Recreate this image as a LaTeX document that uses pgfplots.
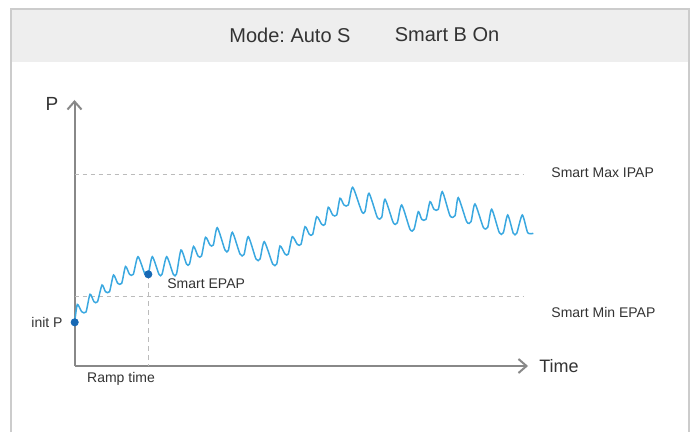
\documentclass[border=0pt]{standalone}
\usepackage{pgfplots}
\pgfplotsset{compat=1.18}
\usepackage{pgfplotstable}
\usetikzlibrary{arrows.meta}
\usepackage{fontspec}
\setmainfont{Liberation Sans}
\frenchspacing
\definecolor{wave}{HTML}{3AA8E0}
\definecolor{dotc}{HTML}{1668B4}
\definecolor{txt}{HTML}{333333}
\definecolor{axc}{HTML}{888888}
\definecolor{dashc}{HTML}{BBBBBB}
\definecolor{hdr}{HTML}{EEEEEE}
\definecolor{framec}{HTML}{CCCCCC}
\pgfplotstableread{
x y
74.7 322.3
77.3 304.5
81.7 311.7
86 312
90 294.3
94 301.7
97.5 301.7
102 285
105.5 291.7
109.5 291.7
113.5 275
117.7 283.3
121.7 283.3
125.5 266.5
129.5 274.3
133.3 274.3
138 256.7
145 274.3
148.3 274.3
152.3 256.7
159 274.3
162 274.3
166.7 256.7
173.3 274.3
176.5 274
181 250
186.5 264
189.5 264
193.5 246.5
198 256
201.5 256
205.5 237.3
210 245
213.3 245
217.3 227.7
225 250
228.3 250.5
232.3 232.3
240 254
244 254.5
248.3 236.7
256 259
260 259
264.3 241.7
272.7 264
276.7 264
280 246
285 254
288.3 254
292.3 236.7
297.3 244.3
301 244.3
305 226.7
309.3 234.3
312.7 234.3
316.7 216.7
321.7 224.3
325 224.3
328.3 207.3
332.7 215
336.7 215
340 198.3
344 205
348.3 205
352.7 187.3
361.7 211.5
365 211.5
369 193.3
377.3 217.3
381.7 217.3
385 199.3
393.3 222.7
397.3 222.7
401.7 205
410 229.3
414 229.3
418.3 211.7
421.7 219.3
426 219.3
430 201.7
434 209.3
438.3 209.3
442.3 191.7
450 215.7
455 215.7
458.3 197.7
466.7 221.7
471 221.7
475 204
483.3 227.3
487.7 227.3
491.7 209.3
499.3 232.7
503.3 232.7
507.7 215
513.3 233.3
516.7 233.3
522.3 215
527.7 232.7
533.3 233.3
}\wavedata
\begin{document}
\begin{tikzpicture}
\begin{axis}[
  x=0.5pt, y=0.5pt,
  xmin=74.5, xmax=528, ymin=66, ymax=332,
  axis lines=left,
  axis line style={draw=axc, line width=1pt, -{Straight Barb[length=4pt,width=7pt]}},
  xtick=\empty, ytick=\empty,
  clip=false,
]
% page frame
\path (axis cs:0,0) rectangle (axis cs:699,432);
\fill[hdr] (axis cs:11,370) rectangle (axis cs:689,422);
\draw[framec, line width=1pt] (axis cs:11,0) -- (axis cs:11,422.5) -- (axis cs:689,422.5) -- (axis cs:689,0);
\node[font=\fontsize{10}{12}\selectfont, text=txt] at (axis cs:290,397) {Mode: Auto S};
\node[font=\fontsize{10}{12}\selectfont, text=txt] at (axis cs:447,397) {Smart B On};
% reference lines
\addplot[color=dashc, line width=0.5pt, dash pattern=on 2pt off 2pt] coordinates {(74.5,257) (523,257)};
\addplot[color=dashc, line width=0.5pt, dash pattern=on 2pt off 2pt] coordinates {(74.5,136) (523,136)};
\addplot[color=dashc, line width=0.6pt, dash pattern=on 2.5pt off 2pt] coordinates {(148.3,158) (148.3,66)};
% wave
\addplot[color=wave, line width=0.75pt, smooth, tension=0.4] table[x=x, y expr=432-\thisrow{y}] {\wavedata};
% points
\addplot[only marks, mark=*, mark size=1.8pt, color=dotc] coordinates {(74.7,109.7) (148.3,157.7)};
% labels
\node[font=\fontsize{9.5}{11}\selectfont, text=txt] at (axis cs:52,328) {P};
\node[font=\fontsize{9}{11}\selectfont, text=txt] at (axis cs:559,66) {Time};
\node[font=\fontsize{7}{8}\selectfont, text=txt, anchor=east, inner sep=0pt] at (axis cs:63,110) {init P};
\node[font=\fontsize{7}{8}\selectfont, text=txt] at (axis cs:121,53) {Ramp time};
\node[font=\fontsize{7}{8}\selectfont, text=txt, anchor=west, inner sep=0pt] at (axis cs:167,148) {Smart EPAP};
\node[font=\fontsize{7}{8}\selectfont, text=txt, anchor=west, inner sep=0pt] at (axis cs:551,259) {Smart Max IPAP};
\node[font=\fontsize{7}{8}\selectfont, text=txt, anchor=west, inner sep=0pt] at (axis cs:551,120) {Smart Min EPAP};
\end{axis}
\end{tikzpicture}
\end{document}
